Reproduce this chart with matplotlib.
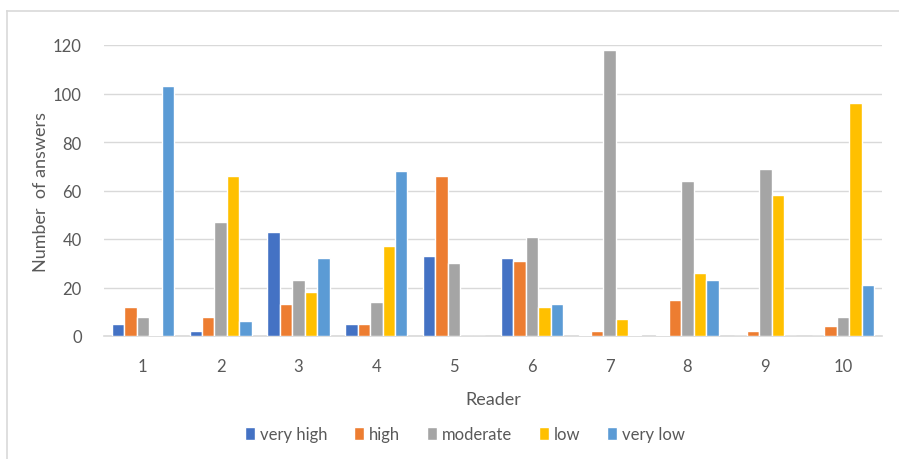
import numpy as np
import matplotlib.pyplot as plt
from matplotlib.lines import Line2D

readers = ['1', '2', '3', '4', '5', '6', '7', '8', '9', '10']
levels = ['very high', 'high', 'moderate', 'low', 'very low']
colors = ['#4472c4', '#ed7d31', '#a5a5a5', '#ffc000', '#5b9bd5']

very_high = [5, 2, 43, 5, 33, 32, 0.5, 0.5, 0, 0]
high = [12, 8, 13, 5, 66, 31, 2, 15, 2, 4]
moderate = [8, 47, 23, 14, 30, 41, 118, 64, 69, 8]
low = [0.5, 66, 18, 37, 0, 12, 7, 26, 58, 96]
very_low = [103, 6, 32, 68, 0, 13, 0.5, 23, 0, 21]
series = [very_high, high, moderate, low, very_low]

plt.rcParams['font.family'] = ['Lato', 'DejaVu Sans']

fig = plt.figure(figsize=(8.99, 4.6), dpi=100)
ax = fig.add_axes([104 / 899, 1 - 337 / 460, (882 - 104) / 899, (337 - 46) / 460])

x = np.arange(len(readers))
w = 0.16
for i, (name, vals) in enumerate(zip(levels, series)):
    ax.bar(x + (i - 2) * w, vals, width=w, color=colors[i], edgecolor='white',
           linewidth=1.0, label=name, zorder=3)

ax.set_xlim(-0.5, len(readers) - 0.5)
ax.set_ylim(0, 120)
ax.set_yticks(range(0, 121, 20))
ax.set_xticks(x)
ax.set_xticklabels(readers)
ax.grid(axis='y', color='#d9d9d9', linewidth=1, zorder=0)
for s in ['top', 'right', 'left']:
    ax.spines[s].set_visible(False)
ax.spines['bottom'].set_color('#d9d9d9')
ax.spines['bottom'].set_linewidth(1.2)
ax.tick_params(length=0, labelsize=12, colors='#595959')
ax.tick_params(axis='x', pad=16)
ax.tick_params(axis='y', pad=16)
ax.set_xlabel('Reader', fontsize=13, color='#595959', labelpad=12)
ax.set_ylabel('Number  of answers', fontsize=13, color='#595959', labelpad=3)

fig.legend(loc='center', bbox_to_anchor=(0.517, 1 - 435 / 460), ncol=5, frameon=False,
           fontsize=12, handlelength=0.6, handleheight=0.8, handletextpad=0.3,
           columnspacing=1.6, labelcolor='#595959')

# chart frame
fig.add_artist(Line2D([7 / 899, 7 / 899], [0, 1 - 12 / 460], color='#d9d9d9', lw=1.2))
fig.add_artist(Line2D([7 / 899, 1], [1 - 12 / 460, 1 - 12 / 460], color='#d9d9d9', lw=1.2))

fig.savefig('out.png', dpi=100)
